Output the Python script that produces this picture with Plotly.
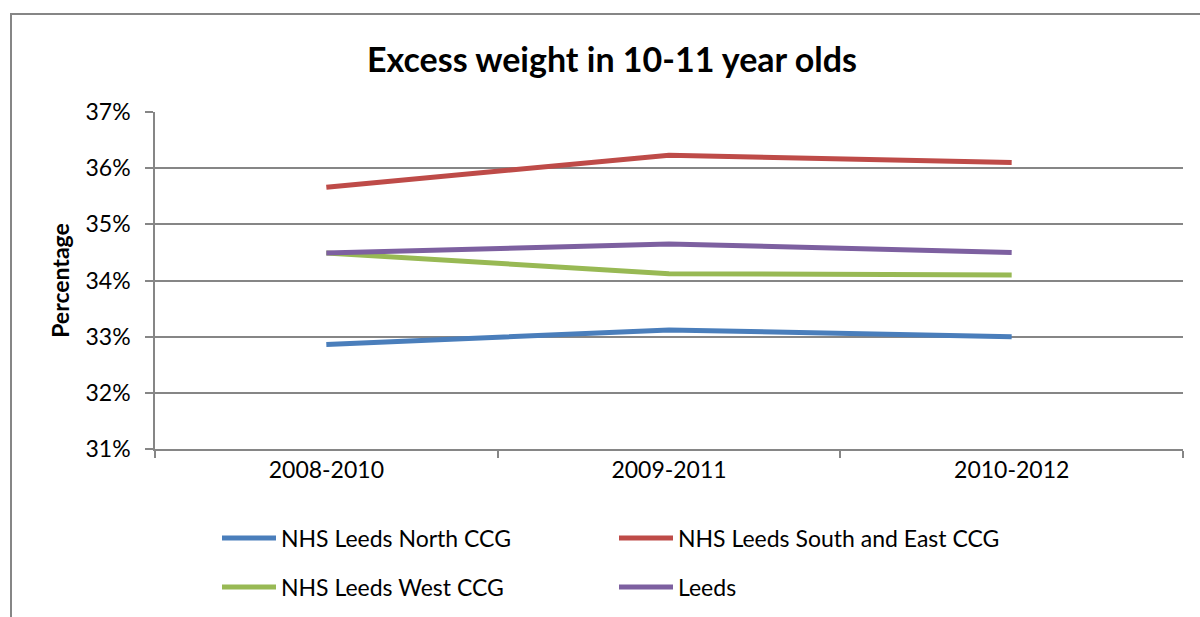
import plotly.graph_objects as go

categories = ["2008-2010", "2009-2011", "2010-2012"]
leeds_north = [32.86, 33.12, 33.00]
leeds_south_east = [35.66, 36.23, 36.10]
leeds_west = [34.49, 34.12, 34.10]
leeds = [34.49, 34.65, 34.50]

series = [
    ("NHS Leeds North CCG", leeds_north, "#4A7EBB", "legend"),
    ("NHS Leeds South and East CCG", leeds_south_east, "#BE4B48", "legend"),
    ("NHS Leeds West CCG", leeds_west, "#98B954", "legend2"),
    ("Leeds", leeds, "#7D60A0", "legend2"),
]

y_ticks = [31, 32, 33, 34, 35, 36, 37]
y_ticklabels = ["31%", "32%", "33%", "34%", "35%", "36%", "37%"]

FONT = "Lato"
GRID = "#868686"

fig = go.Figure()
for name, vals, color, lg in series:
    fig.add_trace(go.Scatter(
        x=categories, y=vals, name=name, mode="lines",
        line=dict(color=color, width=5), legend=lg,
    ))

W, H = 1200, 617
L, R, T, B = 155, 17, 112, 168
pw, ph = W - L - R, H - T - B

def px_x(p):
    return (p - L) / pw

def px_y(p):
    return (H - B - p) / ph

legend_common = dict(
    orientation="h", font=dict(family=FONT, size=23, color="#000000"),
    xanchor="left", yanchor="middle", entrywidth=328, entrywidthmode="pixels",
    itemwidth=54, bgcolor="rgba(0,0,0,0)",
)

fig.update_layout(
    width=W, height=H,
    margin=dict(l=L, r=R, t=T, b=B, autoexpand=False),
    paper_bgcolor="white", plot_bgcolor="white",
    font=dict(family=FONT, color="#000000"),
    title=dict(text="<b>Excess weight in 10-11 year olds</b>",
               font=dict(family=FONT, size=34, color="#000000"),
               x=612 / W, xanchor="center", y=1 - 60 / H, yanchor="middle"),
    xaxis=dict(type="category", range=[-0.5, 2.5], showgrid=False,
               showline=True, linecolor=GRID, linewidth=1.5,
               ticks="outside", tickson="boundaries", ticklen=7,
               tickcolor=GRID, tickwidth=1.5,
               tickfont=dict(family=FONT, size=23, color="#000000")),
    yaxis=dict(range=[31, 37], tickvals=y_ticks, ticktext=y_ticklabels,
               showgrid=True, gridcolor=GRID, gridwidth=1.5,
               showline=True, linecolor=GRID, linewidth=1.5,
               ticks="outside", ticklen=8, tickcolor=GRID, tickwidth=1.5,
               ticklabelstandoff=10, zeroline=False,
               tickfont=dict(family=FONT, size=23, color="#000000"),
               title=dict(text="<b>Percentage</b>", standoff=9,
                          font=dict(family=FONT, size=23, color="#000000"))),
    legend=dict(x=px_x(222 - 5), y=px_y(538), **legend_common),
    legend2=dict(x=px_x(222 - 5), y=px_y(587), **legend_common),
    shapes=[dict(type="rect", xref="paper", yref="paper",
                 x0=px_x(11), x1=px_x(1215), y0=px_y(640), y1=px_y(14),
                 line=dict(color=GRID, width=2), fillcolor="rgba(0,0,0,0)",
                 layer="below")],
)

fig.write_html("out.html")
